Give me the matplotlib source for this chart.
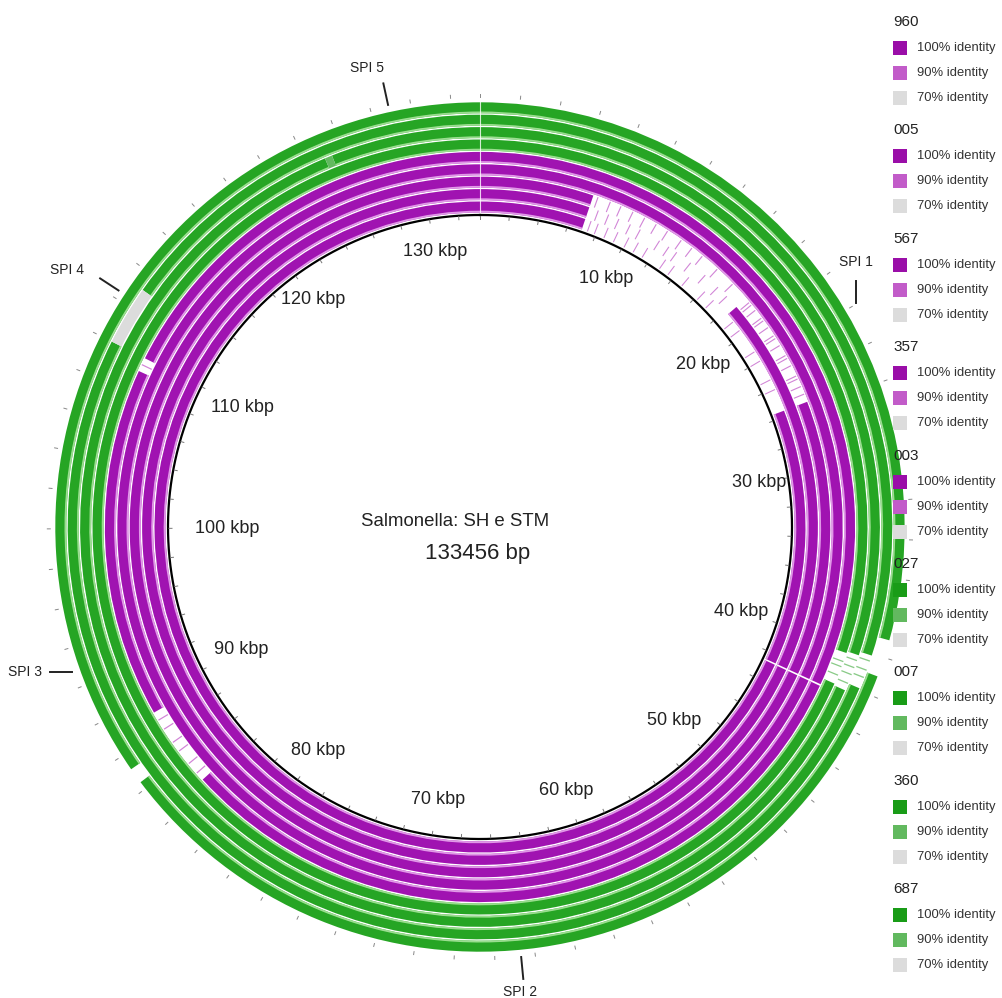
import numpy as np
import matplotlib.pyplot as plt
from matplotlib.patches import Rectangle

plt.rcParams['font.family'] = ['Liberation Sans', 'DejaVu Sans']

genome_len = 133456
strains = ['960', '005', '567', '357', '003', '027', '007', '360', '687']
family = ['purple'] * 5 + ['green'] * 4
identity_levels = [100, 90, 70]

ring_colors = {'purple': '#a013b1', 'green': '#26a524'}
shade_colors = {'purple': '#e8a8ee', 'green': '#a8e49c'}
legend_colors = {
    'purple': {100: '#9a0ea8', 90: '#c25cc9', 70: '#dcdcdc'},
    'green': {100: '#199c17', 90: '#62b95f', 70: '#dcdcdc'},
}

# stretches without any hit (kbp), per ring, innermost ring first
no_hit = {
    0: [(7.0, 25.6), (42.55, 42.65)],
    1: [(7.0, 18.3), (42.55, 42.65)],
    2: [(7.0, 25.6), (42.55, 42.65)],
    3: [(42.55, 42.65)],
    4: [(42.55, 42.65), (84.4, 89.1), (109.2, 110.0)],
    5: [(40.4, 42.2)],
    6: [(40.3, 42.3)],
    7: [(40.1, 41.9)],
    8: [(39.1, 41.0), (86.4, 87.2)],
}

# weaker hits (start kbp, end kbp, identity %)
weak_hit = {
    6: [(125.0, 125.4, 90)],
    7: [(110.0, 113.1, 70)],
}

# short hits scattered inside the no-hit stretches (kbp)
fragments = {
    0: [7.4, 7.9, 8.6, 9.3, 10.1, 10.8, 11.5, 12.9, 13.6, 14.8, 16.2, 17.0,
        18.9, 19.6, 21.3, 22.0, 23.4, 24.1],
    1: [7.6, 8.3, 9.0, 9.8, 10.5, 11.9, 12.6, 13.2, 14.3, 15.5, 16.6, 17.4],
    2: [7.3, 8.1, 8.8, 9.6, 10.4, 11.2, 12.0, 13.0, 13.8, 14.6, 15.8, 17.1,
        18.6, 18.8, 19.2, 19.8, 20.0, 20.5, 21.1, 21.3, 21.8, 22.5, 22.7,
        23.2, 23.9, 24.1, 24.6, 25.1],
    4: [84.9, 85.6, 86.5, 87.1, 88.0, 88.6, 109.6],
    5: [40.9, 41.2, 41.7],
    6: [40.6, 41.0, 41.4, 41.9],
    7: [40.4, 40.9, 41.3],
}

tick_kbp = list(range(10, 140, 10))
tick_labels = [f'{k} kbp' for k in tick_kbp]

spi_names = ['SPI 1', 'SPI 2', 'SPI 3', 'SPI 4', 'SPI 5']
spi_kbp = [21.5, 64.7, 93.0, 112.4, 128.9]

# ---- layout (pixels) ----
W, H = 1003, 998
cx, cy = 480, 527
R = 470
r_axis = 312
r0 = 314.5
step = 12.4
band = 11.0
# radius of each scale label's centre
label_r = [279, 276, 283, 274, 274, 277, 276, 276, 268, 253, 266, 282, 279]


def theta(kbp):
    return 2 * np.pi * kbp * 1000 / genome_len


def px(kbp, r):
    a = theta(kbp)
    return cx + r * np.sin(a), cy - r * np.cos(a)


def hit_segments(ring):
    """Return (start, end) pieces of full-identity hits for a ring."""
    cuts = sorted(no_hit.get(ring, []) + [(s, e) for s, e, _ in weak_hit.get(ring, [])])
    segs, pos = [], 0.0
    end_kbp = genome_len / 1000
    for s, e in cuts:
        if s > pos:
            segs.append((pos, s))
        pos = max(pos, e)
    if pos < end_kbp:
        segs.append((pos, end_kbp))
    return segs


fig = plt.figure(figsize=(W / 100, H / 100), dpi=100)
ax = fig.add_axes([(cx - R) / W, (H - cy - R) / H, 2 * R / W, 2 * R / H],
                  projection='polar')
ax.set_theta_zero_location('N')
ax.set_theta_direction(-1)
ax.set_ylim(0, R)
ax.set_axis_off()

for i, name in enumerate(strains):
    fam = family[i]
    bottom = r0 + i * step
    for s, e in hit_segments(i):
        ax.bar(theta(s), band, width=theta(e) - theta(s), bottom=bottom,
               align='edge', color=ring_colors[fam], linewidth=0)
        ax.bar(theta(s), 1.8, width=theta(e) - theta(s), bottom=bottom,
               align='edge', color=shade_colors[fam], linewidth=0, alpha=0.9)
    for s, e, ident in weak_hit.get(i, []):
        ax.bar(theta(s), band, width=theta(e) - theta(s), bottom=bottom,
               align='edge', color=legend_colors[fam][ident], linewidth=0)
    for f in fragments.get(i, []):
        ax.bar(theta(f), band, width=theta(0.07), bottom=bottom,
               align='center', color=legend_colors[fam][90], linewidth=0,
               alpha=0.75)

# seam at the origin
ax.plot([0, 0], [r0, r0 + 8 * step + band], color='white', lw=0.8, alpha=0.8)

# backbone circle and ticks
t = np.linspace(0, 2 * np.pi, 720)
ax.plot(t, np.full_like(t, r_axis), color='black', lw=1.6)
minor = np.arange(0, genome_len / 1000, 2)
r_out = r0 + 8 * step + band
for k in minor:
    ax.plot([theta(k)] * 2, [r_axis - 4, r_axis - 1], color='#777777', lw=0.7)
    ax.plot([theta(k)] * 2, [r_out + 5, r_out + 8], color='#888888', lw=0.7)

for k, lab, rl in zip(tick_kbp, tick_labels, label_r):
    ax.text(theta(k), rl, lab, ha='center', va='center', fontsize=13,
            color='#222222')

# overlay in pixel coordinates for labels and legend
ov = fig.add_axes([0, 0, 1, 1])
ov.set_xlim(0, W)
ov.set_ylim(H, 0)
ov.set_axis_off()

ov.text(455, 522, 'Salmonella: SH e STM', ha='center', va='center',
        fontsize=13.4, color='#222222')
ov.text(478, 554, '133456 bp', ha='center', va='center', fontsize=16,
        color='#222222')

# island markers: line direction in screen degrees (None = radial) and text offset
spi_dir = [90, None, 0, None, None]
spi_text_off = [(0, -30), (-2, 24), (-36, 0), (-42, -14), (-19, -26)]
for name, k, d, (ox, oy) in zip(spi_names, spi_kbp, spi_dir, spi_text_off):
    mx, my = px(k, 443)
    if d is None:
        a = theta(k)
        ux, uy = np.sin(a), -np.cos(a)
    else:
        ux, uy = np.cos(np.radians(d)), np.sin(np.radians(d))
    ov.plot([mx - 11 * ux, mx + 11 * ux], [my - 11 * uy, my + 11 * uy],
            color='#222222', lw=1.4)
    ov.text(mx + ox, my + oy, name, ha='center', va='center', fontsize=10,
            color='#222222')

# legend
for g, name in enumerate(strains):
    fam = family[g]
    y0 = 22 + 108.4 * g
    ov.text(893, y0, name, ha='left', va='center', fontsize=11, color='#222222')
    for j, lvl in enumerate(identity_levels):
        yy = y0 + 26 + 25 * j
        ov.add_patch(Rectangle((893, yy - 7), 14, 14,
                               color=legend_colors[fam][lvl], linewidth=0))
        ov.text(917, yy, f'{lvl}% identity', ha='left', va='center',
                fontsize=9.4, color='#333333')

fig.savefig('out.png', dpi=100)
